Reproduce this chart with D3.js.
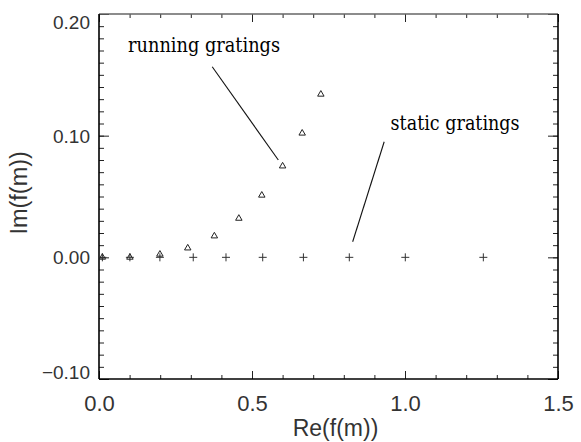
<!DOCTYPE html>
<html>
<head>
<meta charset="utf-8">
<script src="https://cdn.jsdelivr.net/npm/d3@7"></script>
<style>
  html, body { margin: 0; padding: 0; background: #fff; }
  svg { display: block; }
</style>
</head>
<body>
<svg id="chart" width="581" height="442"></svg>
<script>
// running gratings (triangles)
const runningRe = [0.011, 0.101, 0.199, 0.290, 0.377, 0.457, 0.532, 0.600, 0.664, 0.725];
const runningIm = [0.000, 0.000, 0.0025, 0.0076, 0.0175, 0.032, 0.051, 0.075, 0.102, 0.134];
// static gratings (plus signs)
const staticRe = [0.011, 0.101, 0.199, 0.308, 0.415, 0.535, 0.668, 0.818, 1.001, 1.256];
const staticIm = [0, 0, 0, 0, 0, 0, 0, 0, 0, 0];

const xTicks = [0.0, 0.5, 1.0, 1.5];
const xTickLabels = ["0.0", "0.5", "1.0", "1.5"];
const yTicks = [-0.10, 0.00, 0.10, 0.20];
const yTickLabels = ["\u22120.10", "0.00", "0.10", "0.20"];

const annotations = [
  { text: "running gratings", x: 0.095, y: 0.169, x1: 0.370, y1: 0.1566, x2: 0.586, y2: 0.080, len: 152 },
  { text: "static gratings", x: 0.953, y: 0.105, x1: 0.932, y1: 0.095, x2: 0.829, y2: 0.0128, len: 129 },
];

const svg = d3.select("#chart");
const margin = { top: 14, right: 23, bottom: 63, left: 99 };
const W = 581, H = 442;
const innerW = W - margin.left - margin.right;
const innerH = H - margin.top - margin.bottom;
const g = svg.append("g").attr("transform", `translate(${margin.left},${margin.top})`);

const x = d3.scaleLinear().domain([0, 1.5]).range([0, innerW]);
const y = d3.scaleLinear().domain([-0.1, 0.2]).range([innerH, 0]);

const xMinor = d3.range(0, 1.5001, 0.1);
const yMinor = d3.range(-0.1, 0.2001, 0.01);
const sans = "'Liberation Sans', Arial, sans-serif";

function styleAxis(sel) {
  sel.select(".domain").remove();
  sel.selectAll(".tick line").attr("stroke", "#222").attr("stroke-width", 1);
}

// minor ticks, all four sides
g.append("g").attr("transform", `translate(0,${innerH})`)
  .call(d3.axisBottom(x).tickValues(xMinor).tickSize(-4).tickFormat(""))
  .call(styleAxis);
g.append("g")
  .call(d3.axisTop(x).tickValues(xMinor).tickSize(-4).tickFormat(""))
  .call(styleAxis);
g.append("g")
  .call(d3.axisLeft(y).tickValues(yMinor).tickSize(-5).tickFormat(""))
  .call(styleAxis);
g.append("g").attr("transform", `translate(${innerW},0)`)
  .call(d3.axisRight(y).tickValues(yMinor).tickSize(-5).tickFormat(""))
  .call(styleAxis);

// major ticks
const xAxis = g.append("g").attr("transform", `translate(0,${innerH})`)
  .call(d3.axisBottom(x).tickValues(xTicks).tickSize(-8).tickPadding(16)
    .tickFormat((d, i) => xTickLabels[i]))
  .call(styleAxis);
g.append("g")
  .call(d3.axisTop(x).tickValues(xTicks).tickSize(-8).tickFormat(""))
  .call(styleAxis);
const yAxis = g.append("g")
  .call(d3.axisLeft(y).tickValues(yTicks).tickSize(-10).tickPadding(9)
    .tickFormat((d, i) => yTickLabels[i]))
  .call(styleAxis);
g.append("g").attr("transform", `translate(${innerW},0)`)
  .call(d3.axisRight(y).tickValues(yTicks).tickSize(-10).tickFormat(""))
  .call(styleAxis);

xAxis.selectAll("text")
  .attr("font-family", sans)
  .attr("font-size", 22).attr("fill", "#333");
yAxis.selectAll("text")
  .attr("font-family", sans)
  .attr("font-size", 19).attr("fill", "#333")
  .attr("dy", (d) => d === 0.2 ? "0.78em" : d === -0.1 ? "-0.05em" : "0.35em");

// frame
g.append("line").attr("x1", 0).attr("x2", innerW).attr("y1", 0).attr("y2", 0)
  .attr("stroke", "#666").attr("stroke-width", 1.3);
g.append("line").attr("x1", 0).attr("x2", 0).attr("y1", 0).attr("y2", innerH)
  .attr("stroke", "#000").attr("stroke-width", 1.6);
g.append("line").attr("x1", 0).attr("x2", innerW).attr("y1", innerH).attr("y2", innerH)
  .attr("stroke", "#000").attr("stroke-width", 1.6);
g.append("line").attr("x1", innerW).attr("x2", innerW).attr("y1", 0).attr("y2", innerH)
  .attr("stroke", "#000").attr("stroke-width", 1.6);

// axis titles
svg.append("text")
  .attr("x", margin.left + innerW / 2 + 7).attr("y", 436)
  .attr("text-anchor", "middle")
  .attr("font-family", sans)
  .attr("font-size", 23).attr("fill", "#333")
  .text("Re(f(m))");
svg.append("text")
  .attr("transform", `translate(27,${margin.top + y(0.053)}) rotate(-90)`)
  .attr("text-anchor", "middle")
  .attr("font-family", sans)
  .attr("font-size", 23.5).attr("fill", "#333")
  .text("Im(f(m))");

// points
const runningData = runningRe.map((d, i) => ({ re: d, im: runningIm[i] }));
const staticData = staticRe.map((d, i) => ({ re: d, im: staticIm[i] }));

g.append("g").selectAll("path")
  .data(staticData)
  .join("path")
  .attr("transform", (d) => `translate(${x(d.re)},${y(d.im)})`)
  .attr("d", "M-4,0H4M0,-4V4")
  .attr("fill", "none")
  .attr("stroke", "#333")
  .attr("stroke-width", 1);

const tri = d3.symbol().type(d3.symbolTriangle).size(18);
g.append("g").selectAll("path")
  .data(runningData)
  .join("path")
  .attr("transform", (d) => `translate(${x(d.re)},${y(d.im)})`)
  .attr("d", tri)
  .attr("fill", "none")
  .attr("stroke", "#222")
  .attr("stroke-width", 1);

// annotations
const ann = g.append("g");
ann.selectAll("line")
  .data(annotations)
  .join("line")
  .attr("x1", (d) => x(d.x1)).attr("y1", (d) => y(d.y1))
  .attr("x2", (d) => x(d.x2)).attr("y2", (d) => y(d.y2))
  .attr("stroke", "#111").attr("stroke-width", 1.1);
ann.selectAll("text")
  .data(annotations)
  .join("text")
  .attr("x", (d) => x(d.x)).attr("y", (d) => y(d.y))
  .attr("font-family", "'DejaVu Serif', serif")
  .attr("font-size", 20)
  .attr("fill", "#000")
  .attr("textLength", (d) => d.len)
  .attr("lengthAdjust", "spacingAndGlyphs")
  .text((d) => d.text);
</script>
</body>
</html>
